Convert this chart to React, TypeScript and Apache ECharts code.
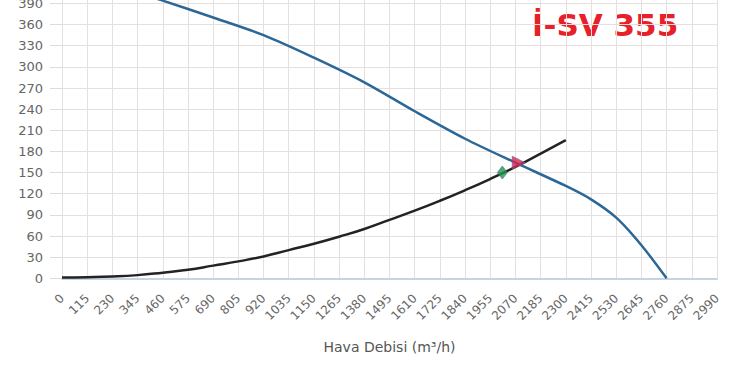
import React, { useEffect, useRef } from "react";
import * as echarts from "echarts";

const xTicks = [0, 115, 230, 345, 460, 575, 690, 805, 920, 1035, 1150, 1265, 1380, 1495, 1610, 1725, 1840, 1955, 2070, 2185, 2300, 2415, 2530, 2645, 2760, 2875, 2990];

// Fan curve (pressure vs. airflow)
const fanX = [0, 230, 460, 690, 920, 1150, 1380, 1610, 1840, 2070, 2300, 2415, 2530, 2645, 2760];
const fanY = [440, 417, 394, 370, 345, 313, 278, 237, 198, 164, 131, 112, 86, 47, 0];

// System curve
const sysX = [0, 115, 230, 345, 460, 575, 690, 805, 920, 1035, 1150, 1265, 1380, 1495, 1610, 1725, 1840, 1955, 2070, 2185, 2300];
const sysY = [1, 1.5, 2.5, 4.5, 8, 12, 18, 24, 31, 40, 49, 59, 70, 83, 96, 110, 125, 141, 158, 177, 196];

const greenPoint = [2010, 150];
const redPoint = [2085, 164];

const title = "İ-SV 355";
const xName = "Hava Debisi (m³/h)";

export default function App() {
  const ref = useRef<HTMLDivElement>(null);
  useEffect(() => {
    if (!ref.current) return;
    const chart = echarts.init(ref.current, undefined, { renderer: "svg" });
    chart.setOption({
      animation: false,
      backgroundColor: "#ffffff",
      grid: { left: 62, right: 15, top: 2.3, bottom: 96.7, containLabel: false },
      graphic: [
        {
          type: "text",
          left: 532,
          top: 29,
          style: {
            text: title,
            fill: "#e8202a",
            font: "bold 31px 'DejaVu Sans'",
          },
        },
      ],
      xAxis: {
        type: "value",
        min: 0,
        max: 2990,
        interval: 115,
        name: xName,
        nameLocation: "middle",
        nameGap: 62,
        nameTextStyle: { color: "#555", fontSize: 14, fontFamily: "DejaVu Sans" },
        axisLine: { show: true, lineStyle: { color: "#c4d4e4", width: 2 } },
        axisTick: { show: false },
        axisLabel: {
          rotate: 45,
          margin: 18,
          color: "#666",
          fontSize: 12,
          fontFamily: "DejaVu Sans",
          showMaxLabel: true,
          formatter: (v: number) => String(v),
        },
        splitLine: { show: true, lineStyle: { color: "#e6dfdf", width: 1 } },
      },
      yAxis: {
        type: "value",
        min: 0,
        max: 420,
        interval: 30,
        axisLine: { show: false },
        axisTick: { show: true, length: 12, lineStyle: { color: "#e0dada" } },
        axisLabel: {
          margin: 19,
          color: "#666",
          fontSize: 13,
          fontFamily: "DejaVu Sans",
          showMaxLabel: false,
          formatter: (v: number) => String(v),
        },
        splitLine: { show: true, lineStyle: { color: "#e6dfdf", width: 1 } },
      },
      series: [
        {
          type: "line",
          data: sysX.map((x, i) => [x, sysY[i]]),
          smooth: true,
          showSymbol: false,
          lineStyle: { color: "#232323", width: 2.5 },
          z: 2,
        },
        {
          type: "line",
          data: fanX.map((x, i) => [x, fanY[i]]),
          smooth: 0.3,
          showSymbol: false,
          lineStyle: { color: "#2b6797", width: 2.5 },
          z: 3,
        },
        {
          type: "scatter",
          data: [greenPoint],
          symbol: "diamond",
          symbolSize: [10, 13],
          itemStyle: { color: "#1a9848", borderColor: "#5a6aa0", borderWidth: 0.8 },
          z: 5,
        },
        {
          type: "scatter",
          data: [redPoint],
          symbol: "triangle",
          symbolRotate: -90,
          symbolSize: [13, 13],
          itemStyle: { color: "#e0204a", borderColor: "#6a5aa0", borderWidth: 0.8 },
          z: 6,
        },
      ],
    });
    return () => chart.dispose();
  }, []);
  return (
    <div
      ref={ref}
      style={{ position: "fixed", left: 0, top: -20, width: 732, height: 395 }}
    />
  );
}
